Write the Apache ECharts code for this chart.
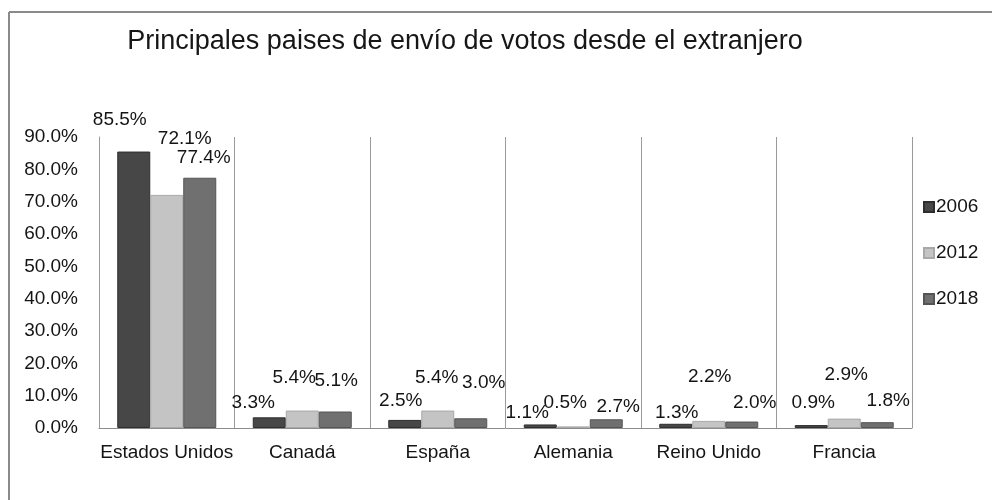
<!DOCTYPE html>
<html>
<head>
<meta charset="utf-8">
<script src="https://cdn.jsdelivr.net/npm/echarts@6/dist/echarts.min.js"></script>
<style>
html,body{margin:0;padding:0;background:#fff;}
#chart{width:992px;height:500px;}
</style>
</head>
<body>
<div id="chart"></div>
<script>
var titleText = 'Principales paises de envío de votos desde el extranjero';
var categories = ['Estados Unidos', 'Canadá', 'España', 'Alemania', 'Reino Unido', 'Francia'];
var seriesNames = ['2006', '2012', '2018'];
var values2006 = [85.5, 3.3, 2.5, 1.1, 1.3, 0.9];
var values2012 = [72.1, 5.4, 5.4, 0.5, 2.2, 2.9];
var values2018 = [77.4, 5.1, 3.0, 2.7, 2.0, 1.8];
var yTicks = [0, 10, 20, 30, 40, 50, 60, 70, 80, 90];

var FONT = "'Liberation Sans', Arial, sans-serif";
var colors = ['#474747', '#c4c4c4', '#707070'];
var borders = ['#2e2e2e', '#a9a9a9', '#555555'];
// label nudges (style only), per series per category
var labelNudge = [
  [[-14,-17],[-16,0],[-4,-5],[-13,3],[1,3],[2,-8]],
  [[18,-42],[-8,-18],[-1,-18],[-8,-9],[1,-30],[2,-29]],
  [[4,-5],[1,-16],[13,-21],[12,2],[13,-4],[11,-7]]
];
var allValues = [values2006, values2012, values2018];

function buildSeries(si) {
  return {
    name: seriesNames[si],
    type: 'bar',
    barWidth: 33,
    barGap: '0%',
    itemStyle: { color: colors[si], borderColor: borders[si], borderWidth: 1 },
    data: allValues[si].map(function (v, ci) {
      return {
        value: v,
        label: { offset: labelNudge[si][ci] }
      };
    }),
    label: {
      show: true,
      position: 'top',
      distance: 5,
      fontFamily: FONT,
      fontSize: 19,
      color: '#141414',
      formatter: function (p) { return p.value.toFixed(1) + '%'; }
    }
  };
}

var chart = echarts.init(document.getElementById('chart'), null, { renderer: 'canvas' });
chart.setOption({
  backgroundColor: '#ffffff',
  animation: false,
  title: {
    text: titleText,
    left: 460,
    top: 23,
    textAlign: 'center',
    textStyle: { fontFamily: FONT, fontSize: 27, fontWeight: 'normal', color: '#161616' }
  },
  legend: {
    orient: 'vertical',
    left: 918,
    top: 192,
    itemWidth: 10,
    itemHeight: 10,
    itemGap: 26,
    icon: 'rect',
    data: seriesNames,
    textStyle: { fontFamily: FONT, fontSize: 19, color: '#141414', lineHeight: 20, padding: [0, 0, 0, -3] }
  },
  grid: { left: 99, right: 80, top: 137, bottom: 72, containLabel: false },
  xAxis: {
    type: 'category',
    data: categories,
    boundaryGap: true,
    axisLine: { show: true, lineStyle: { color: '#8c8c8c', width: 1 } },
    axisTick: { show: false },
    splitLine: { show: true, interval: 0, lineStyle: { color: '#9a9a9a', width: 1 } },
    axisLabel: { interval: 0, margin: 15, fontFamily: FONT, fontSize: 19, color: '#141414' }
  },
  yAxis: {
    type: 'value',
    min: yTicks[0],
    max: yTicks[yTicks.length - 1],
    interval: yTicks[1] - yTicks[0],
    axisLine: { show: true, lineStyle: { color: '#9a9a9a', width: 1 } },
    axisTick: { show: false },
    splitLine: { show: false },
    axisLabel: {
      margin: 21,
      fontFamily: FONT,
      fontSize: 19,
      color: '#141414',
      formatter: function (v) { return v.toFixed(1) + '%'; }
    }
  },
  graphic: [
    { type: 'line', shape: { x1: 9, y1: 12, x2: 9, y2: 500 }, style: { stroke: '#8a8a8a', lineWidth: 2 } },
    { type: 'line', shape: { x1: 9, y1: 12, x2: 992, y2: 12 }, style: { stroke: '#8a8a8a', lineWidth: 2 } }
  ],
  series: [buildSeries(0), buildSeries(1), buildSeries(2)]
});
</script>
</body>
</html>
